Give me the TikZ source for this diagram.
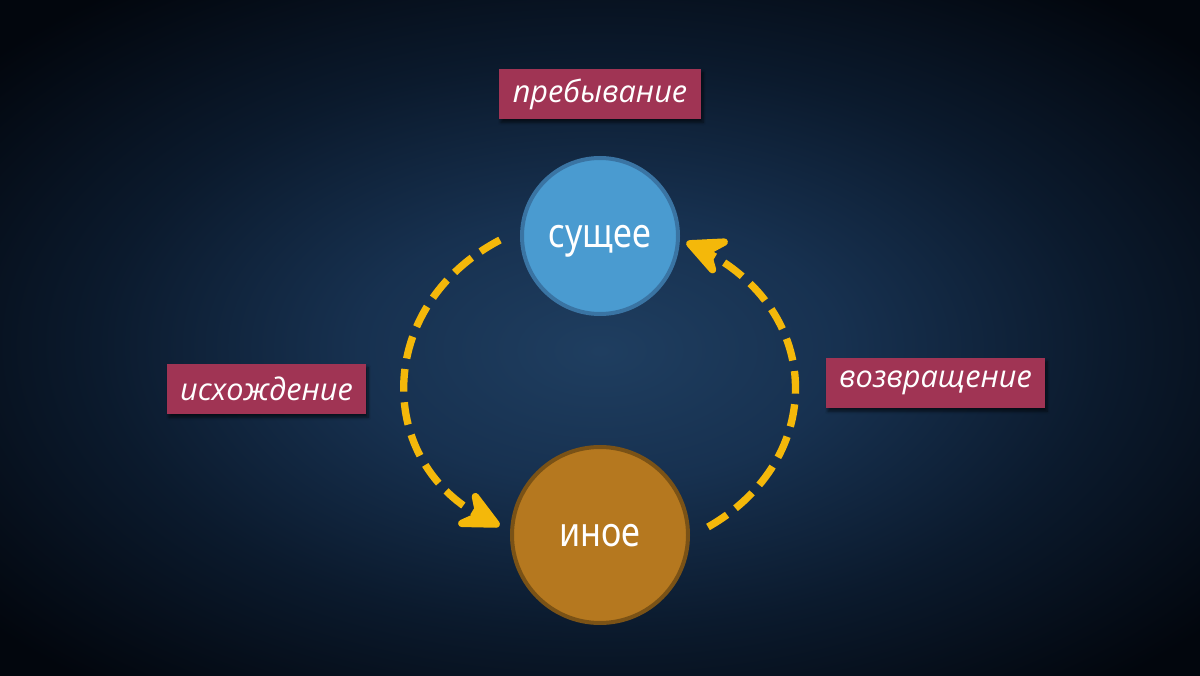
\documentclass[tikz,border=0pt]{standalone}
\usepackage{fontspec}
\setmainfont{Open Sans}
\newfontfamily\circfont[FakeStretch=0.84]{Noto Sans}
\newfontfamily\labfont{Open Sans}
\usetikzlibrary{arrows.meta,shadows,shadows.blur,calc}
\definecolor{bgA}{HTML}{1F3E60}
\definecolor{bgB}{HTML}{173150}
\definecolor{bgC}{HTML}{0B1A2D}
\definecolor{bgD}{HTML}{02060D}
\definecolor{sBlue}{HTML}{4A9BD0}
\definecolor{sBlueD}{HTML}{3A74A3}
\definecolor{oFill}{HTML}{B5781F}
\definecolor{oDraw}{HTML}{7A5216}
\definecolor{labRed}{HTML}{A03454}
\definecolor{flowY}{HTML}{F4B80A}
\pgfdeclareradialshading{bgshade}{\pgfpoint{0bp}{-1bp}}{color(0bp)=(bgA); color(10bp)=(bgB); color(21bp)=(bgC); color(33bp)=(bgD); color(50bp)=(bgD)}
\tikzset{
  circ/.style={circle, line width=3pt, text=white, inner sep=0pt, text depth=0pt,
    font=\circfont\fontsize{30.5}{34}\selectfont},
  lab/.style={fill=labRed, text=white, inner sep=0pt, minimum height=37.5pt,
    font=\labfont\itshape\fontsize{23}{26}\selectfont,
    blur shadow={shadow xshift=1.5pt, shadow yshift=-2.5pt, shadow blur steps=6, shadow opacity=60}},
  flow/.style={draw=flowY, line width=5.5pt, dash pattern=on 17pt off 8pt},
  headtip/.style={draw=flowY, fill=flowY, line width=5.5pt, line join=round, line cap=round}
}
\begin{document}
\begin{tikzpicture}[x=0.75pt,y=0.75pt]
\shade[shading=bgshade] (0,0) rectangle (1200,675);
\useasboundingbox (0,0) rectangle (1200,675);
\node[circ, fill=sBlue, draw=sBlueD, minimum size=117pt] (s) at (600,439) {сущее};
\node[circ, fill=oFill, draw=oDraw, minimum size=132pt] (i) at (600,140) {иное};
\node[lab, minimum width=151.5pt] (lp) at (600,581) {пребывание};
\node[lab, minimum width=149.25pt] (ll) at (266.5,286) {исхождение};
\node[lab, minimum width=164.25pt] (lr) at (935.5,292) {возвращение};
\coordinate (lt) at ([shift={(-12,10)}]i.west);
\coordinate (rt) at ([shift={(8,-7)}]s.east);
\draw[flow, shorten >=10pt] ([shift={(-20,-4)}]s.west) .. controls (374,369) and (374,211) .. (lt);
\draw[flow, shorten >=10pt] ([shift={(18,8)}]i.east) .. controls (826,215) and (826,365) .. (rt);
\begin{scope}[shift={(lt)}, rotate=-27]
  \path[headtip] (-2,0) -- (-33,15) -- (-21,0) -- (-33,-15) -- cycle;
\end{scope}
\begin{scope}[shift={(rt)}, rotate=157]
  \path[headtip] (-2,0) -- (-33,15) -- (-21,0) -- (-33,-15) -- cycle;
\end{scope}
\end{tikzpicture}
\end{document}
